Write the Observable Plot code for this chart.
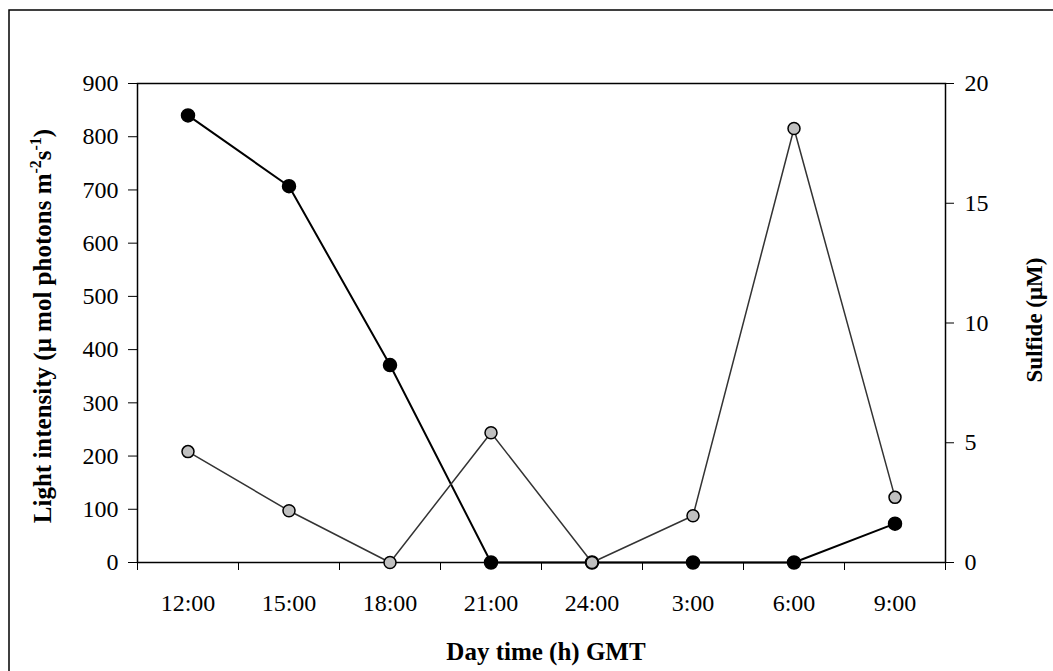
<!DOCTYPE html>
<html>
<head>
<meta charset="utf-8">
<script src="https://cdn.jsdelivr.net/npm/d3@7"></script>
<script src="https://cdn.jsdelivr.net/npm/@observablehq/plot@0.6"></script>
<style>
  html, body { margin: 0; padding: 0; background: #fff; }
  #chart svg { display: block; }
</style>
</head>
<body>
<div id="chart"></div>
<script>
const times = ["12:00", "15:00", "18:00", "21:00", "24:00", "3:00", "6:00", "9:00"];
const lightIntensity = [840, 707, 371, 0, 0, 0, 0, 73];
const sulfide = [4.63, 2.16, 0, 5.42, 0, 1.95, 18.12, 2.72];
const lightTicks = [0, 100, 200, 300, 400, 500, 600, 700, 800, 900];
const sulfideTicks = [0, 5, 10, 15, 20];
const sulfideMax = 20;
const lightMax = 900;
const k = lightMax / sulfideMax;

const lightData = times.map((t, i) => ({i, v: lightIntensity[i]}));
const sulfideData = times.map((t, i) => ({i, v: sulfide[i] * k}));
const boundaries = d3.range(times.length + 1).map(i => i - 0.5);

const font = "'Liberation Serif', 'Times New Roman', serif";

const chart = Plot.plot({
  width: 1053,
  height: 671,
  marginLeft: 137,
  marginRight: 108,
  marginTop: 83,
  marginBottom: 109,
  style: {fontFamily: font, fontSize: "24px", color: "#000", background: "#fff"},
  x: {type: "linear", domain: [-0.5, times.length - 0.5], axis: null},
  y: {domain: [0, lightMax], axis: null},
  marks: [
    Plot.frame({stroke: "#000", strokeWidth: 1.5}),
    Plot.axisY({ticks: lightTicks, anchor: "left", tickSize: 9, tickPadding: 10, label: null,
      fontSize: 24, stroke: "#000", strokeWidth: 1}),
    Plot.axisY({ticks: sulfideTicks.map(v => v * k), anchor: "right", tickSize: 8, tickPadding: 11,
      tickFormat: d => String(Math.round(d / k)), label: null, fontSize: 24, stroke: "#000", strokeWidth: 1}),
    Plot.axisX({ticks: boundaries, anchor: "bottom", tickSize: 8, tickFormat: () => "", label: null,
      stroke: "#000", strokeWidth: 1}),
    Plot.axisX({ticks: d3.range(times.length), anchor: "bottom", tickSize: 0, tickPadding: 31,
      tickFormat: i => times[i], label: null, fontSize: 24}),
    Plot.line(lightData, {x: "i", y: "v", stroke: "#000", strokeWidth: 2}),
    Plot.dot(lightData, {x: "i", y: "v", r: 6.5, fill: "#000", stroke: "#000"}),
    Plot.line(sulfideData, {x: "i", y: "v", stroke: "#333", strokeWidth: 1.5}),
    Plot.dot(sulfideData, {x: "i", y: "v", r: 6, fill: "#c0c0c0", stroke: "#000", strokeWidth: 1.5})
  ]
});

document.getElementById("chart").appendChild(chart);

const svg = d3.select(chart);
// outer border (top and left visible)
svg.append("path").attr("d", "M9,671V10H1053").attr("fill", "none").attr("stroke", "#000").attr("stroke-width", 1.5);

// x-axis title
svg.append("text")
  .attr("x", 546).attr("y", 660)
  .attr("text-anchor", "middle")
  .attr("font-family", font).attr("font-weight", "bold").attr("font-size", 25)
  .text("Day time (h) GMT");

// left y title with superscripts
const lt = svg.append("text")
  .attr("transform", "translate(51,326) rotate(-90)")
  .attr("text-anchor", "middle")
  .attr("font-family", font).attr("font-weight", "bold").attr("font-size", 25);
lt.append("tspan").text("Light intensity (μ mol photons m");
lt.append("tspan").attr("dy", -10).attr("font-size", 16).text("-2");
lt.append("tspan").attr("dy", 10).text("s");
lt.append("tspan").attr("dy", -10).attr("font-size", 16).text("-1");
lt.append("tspan").attr("dy", 10).text(")");

// right y title
svg.append("text")
  .attr("transform", "translate(1042,320) rotate(-90)")
  .attr("text-anchor", "middle")
  .attr("font-family", font).attr("font-weight", "bold").attr("font-size", 23)
  .text("Sulfide (μM)");
</script>
</body>
</html>
